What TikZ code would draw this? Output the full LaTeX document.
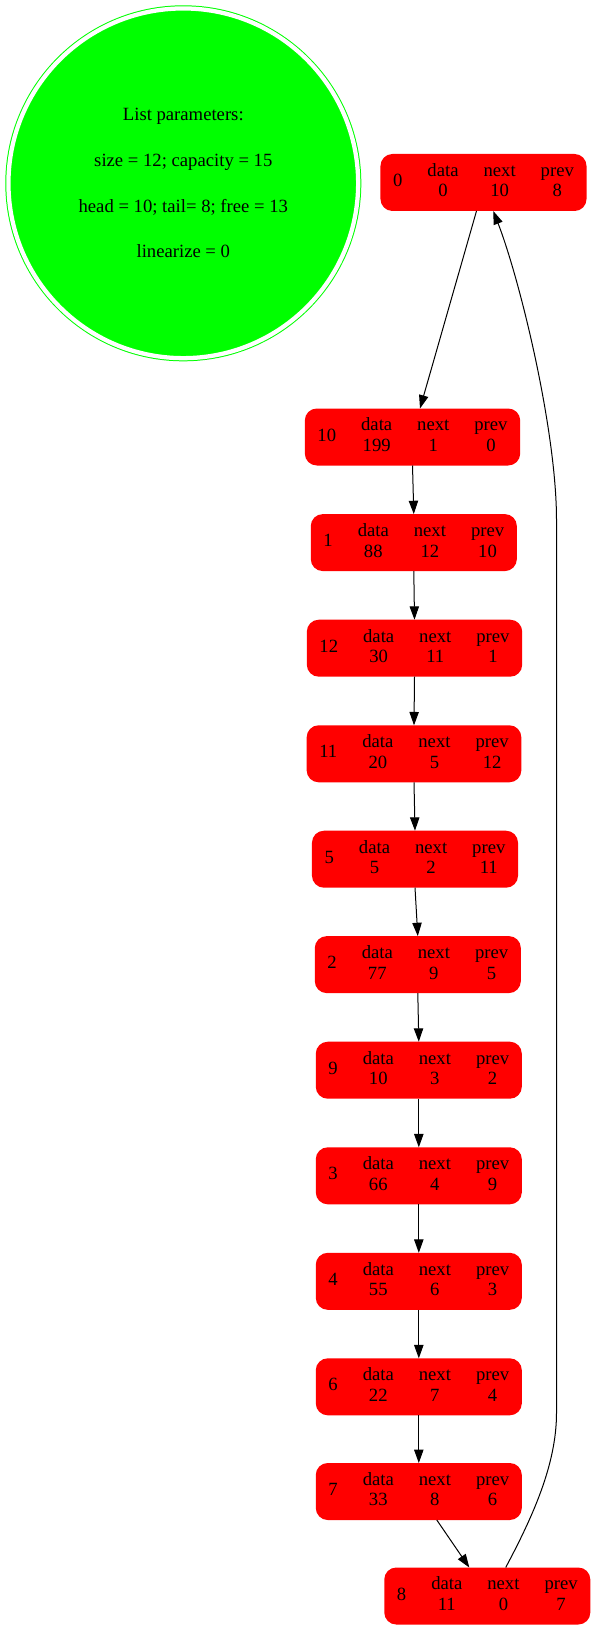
\documentclass[tikz,border=0pt]{standalone}
\usepackage{fontspec}
\setmainfont{Liberation Serif}
\usetikzlibrary{arrows.meta,calc}
\tikzset{every picture/.style={>={Triangle[length=10pt,width=7pt]},line width=0.75pt}}
\tikzset{elem/.style={rectangle,rounded corners=9pt,fill=red,inner xsep=9.5pt,inner ysep=0pt,
    minimum height=42.75pt,outer sep=0pt,font=\fontsize{14pt}{15.5pt}\selectfont}}
\tikzset{params/.style={circle,fill=green,draw=green,double=white,double distance=3.2pt,
    minimum size=262.3pt,inner sep=0pt,align=center,font=\fontsize{14pt}{17pt}\selectfont}}
\newcommand{\elemtab}[4]{%
  \begin{tabular}{@{}c@{}}#1\end{tabular}\hskip 18.75pt
  \begin{tabular}{@{}c@{\hskip 18.75pt}c@{\hskip 18.75pt}c@{}}data & next & prev\\ #2 & #3 & #4\end{tabular}}

\begin{document}
\begin{tikzpicture}[x=0.75pt,y=-0.75pt]
      \useasboundingbox (0,0) rectangle (593,1630);
      \node[params] (param) at (183.3,183.3) {List parameters:\\[17.2pt] size = 12; capacity = 15\\[17.2pt]
        head = 10; tail= 8; free = 13\\[17.2pt] linearize = 0};
      \node[elem] (n0) at (483.5,182.5) {\elemtab{0}{0}{10}{8}};
      \node[elem] (n10) at (412.5,437) {\elemtab{10}{199}{1}{0}};
      \node[elem] (n1) at (413.8,542.6) {\elemtab{1}{88}{12}{10}};
      \node[elem] (n12) at (414.5,648.2) {\elemtab{12}{30}{11}{1}};
      \node[elem] (n11) at (414,753.8) {\elemtab{11}{20}{5}{12}};
      \node[elem] (n5) at (415,859.2) {\elemtab{5}{5}{2}{11}};
      \node[elem] (n2) at (417.8,964.6) {\elemtab{2}{77}{9}{5}};
      \node[elem] (n9) at (418.8,1070.2) {\elemtab{9}{10}{3}{2}};
      \node[elem] (n3) at (418.8,1175.8) {\elemtab{3}{66}{4}{9}};
      \node[elem] (n4) at (418.8,1281.3) {\elemtab{4}{55}{6}{3}};
      \node[elem] (n6) at (418.8,1386.8) {\elemtab{6}{22}{7}{4}};
      \node[elem] (n7) at (418.8,1491.5) {\elemtab{7}{33}{8}{6}};
      \node[elem] (n8) at (487.3,1596) {\elemtab{8}{11}{0}{7}};
      % next links
      \draw[->] ($(n0.south)+(-7,0)$) -- ($(n10.north)+(7.5,0)$);
      \foreach \a/\b in {10/1,1/12,12/11,11/5,5/2,2/9,9/3,3/4,4/6,6/7}
        \draw[->] (n\a.south) -- (n\b.north);
      \draw[->] ($(n7.south)+(18,0)$) -- ($(n8.north)+(-18,0)$);
      % tail back to head
      \draw[->] ($(n8.north)+(18.4,0)$) .. controls (532,1518) and (556.5,1465) .. (556.5,1413)
        -- (556.5,520) .. controls (556.5,430) and (520,280) .. ($(n0.south)+(9.8,0)$);
\end{tikzpicture}
\end{document}
